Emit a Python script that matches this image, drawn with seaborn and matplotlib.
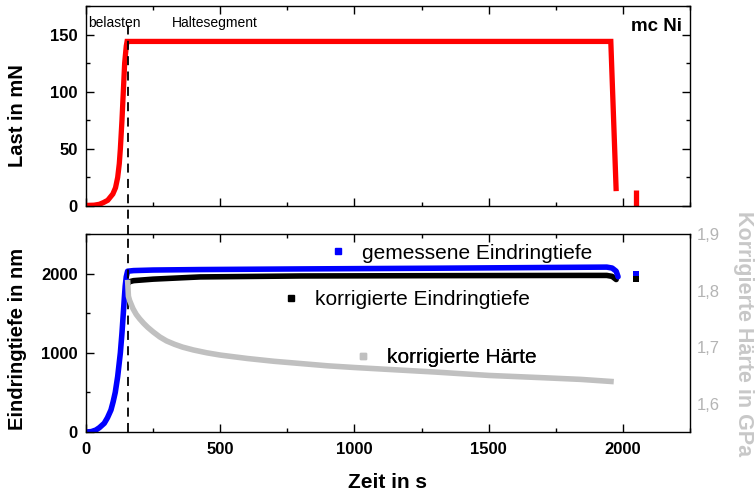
import matplotlib
matplotlib.use("Agg")
import matplotlib.pyplot as plt
import numpy as np
import pandas as pd
import seaborn as sns
from matplotlib.lines import Line2D
from matplotlib.ticker import MultipleLocator, FixedLocator, FuncFormatter

# ---- load (mN) over time (s) ----
load_t = [0, 30, 50, 65, 81, 100, 110, 118, 124, 128, 134, 139, 144, 150, 153, 1955, 1975]
load_p = [0.5, 0.7, 1.5, 3, 5, 10.5, 16, 25, 37, 50, 75, 100, 125, 140, 144, 144, 13]
final_unload_t = [2049, 2049]
final_unload_p = [14, 0]

# ---- measured indentation depth (nm) ----
depth_t = [0, 20, 37, 50, 68, 80, 93, 101, 109, 118, 128, 134, 139, 143, 146, 150, 155,
           177, 250, 425, 800, 1300, 1845, 1940, 1960, 1975, 1982]
depth_h = [0, 5, 25, 55, 110, 180, 278, 380, 500, 700, 1000, 1250, 1500, 1700, 1840, 1960, 2030,
           2038, 2045, 2051, 2059, 2068, 2080, 2082, 2070, 2030, 1960]
depth_end_t = [2049]
depth_end_h = [1995]

# ---- corrected indentation depth (nm) ----
corr_t = [149, 153, 158, 165, 177, 250, 425, 800, 1300, 1845, 1940, 1960, 1975]
corr_h = [1840, 1855, 1890, 1900, 1911, 1930, 1958, 1970, 1974, 1977, 1977, 1965, 1925]
corr_end_t = [2049]
corr_end_h = [1933]

# ---- corrected hardness (GPa) ----
hard_t = [155, 158, 162, 168, 175, 187, 200, 215, 230, 250, 275, 300, 330, 360, 400, 450,
          500, 600, 700, 800, 900, 1000, 1150, 1300, 1500, 1700, 1843, 1966]
hard_H = [1.819, 1.790, 1.783, 1.776, 1.768, 1.758, 1.750, 1.742, 1.735, 1.727, 1.718, 1.711,
          1.705, 1.700, 1.695, 1.690, 1.686, 1.680, 1.675, 1.671, 1.667, 1.664, 1.660, 1.656,
          1.650, 1.646, 1.643, 1.639]

t_load_end = 155
right_ticks = [1.6, 1.7, 1.8, 1.9]

sns.set_theme(style="ticks")
plt.rcParams["font.family"] = ["Liberation Sans", "DejaVu Sans"]
plt.rcParams["axes.linewidth"] = 1.0
for key_ in ("text.color", "axes.labelcolor", "xtick.color", "ytick.color", "axes.edgecolor"):
    plt.rcParams[key_] = "black"

RED = "#ff0000"
BLUE = "#0000ff"
GRAY = "#c0c0c0"
LABEL_GRAY = "#c8c8c8"
TICK_GRAY = "#b4b4b4"

fig = plt.figure(figsize=(7.56, 4.95), dpi=100)
W, H = 756, 495
ax_top = fig.add_axes([86 / W, (H - 206) / H, 604 / W, 200 / H])
ax_bot = fig.add_axes([86 / W, (H - 432) / H, 604 / W, 198 / H])

# ---- top panel: load ----
sns.lineplot(x=load_t, y=load_p, ax=ax_top, color=RED, lw=3.8, sort=False, estimator=None,
             solid_capstyle="butt", solid_joinstyle="miter")
sns.lineplot(x=final_unload_t, y=final_unload_p, ax=ax_top, color=RED, lw=3.8,
             sort=False, estimator=None, solid_capstyle="butt")
ax_top.set_xlim(0, 2250)
ax_top.set_ylim(0, 175)
ax_top.set_ylabel("Last in mN", fontsize=14.5, fontweight="bold", va="center")
ax_top.yaxis.set_label_coords(-0.113, 0.45)
ax_top.set_xlabel("")
ax_top.yaxis.set_major_locator(FixedLocator([0, 50, 100, 150]))
ax_top.yaxis.set_minor_locator(MultipleLocator(25))
ax_top.xaxis.set_major_locator(MultipleLocator(500))
ax_top.xaxis.set_minor_locator(MultipleLocator(250))
ax_top.tick_params(axis="x", labelbottom=False)

ax_top.text(0.004, 0.917, "belasten", transform=ax_top.transAxes, fontsize=10,
            ha="left", va="center")
ax_top.text(0.142, 0.917, "Haltesegment", transform=ax_top.transAxes, fontsize=10,
            ha="left", va="center")
ax_top.text(0.987, 0.90, "mc Ni", transform=ax_top.transAxes, fontsize=13.5,
            fontweight="bold", ha="right", va="center")

# ---- bottom panel: depths ----
sns.lineplot(x=corr_t, y=corr_h, ax=ax_bot, color="black", lw=4, sort=False,
             estimator=None, solid_capstyle="round")
sns.lineplot(x=depth_t, y=depth_h, ax=ax_bot, color=BLUE, lw=4, sort=False,
             estimator=None, solid_capstyle="round")
sns.scatterplot(x=depth_end_t, y=depth_end_h, ax=ax_bot, color=BLUE, marker="s",
                s=22, linewidth=0)
sns.scatterplot(x=corr_end_t, y=corr_end_h, ax=ax_bot, color="black", marker="s",
                s=22, linewidth=0)
ax_bot.set_xlim(0, 2250)
ax_bot.set_ylim(0, 2500)
ax_bot.xaxis.set_major_locator(MultipleLocator(500))
ax_bot.xaxis.set_minor_locator(MultipleLocator(250))
ax_bot.yaxis.set_major_locator(FixedLocator([0, 1000, 2000]))
ax_bot.yaxis.set_minor_locator(MultipleLocator(500))
ax_bot.set_xlabel("Zeit in s", fontsize=15, fontweight="bold")
ax_bot.set_ylabel("Eindringtiefe in nm", fontsize=14.5, fontweight="bold", va="center")
ax_bot.xaxis.set_label_coords(0.5, -0.253)
ax_bot.xaxis.label.set_va("center")
ax_bot.yaxis.set_label_coords(-0.113, 0.472)

for ax in (ax_top, ax_bot):
    ax.tick_params(which="both", direction="in", top=True, right=True, width=1.0,
                   colors="black")
    ax.tick_params(which="major", length=5.5)
    ax.tick_params(which="minor", length=3.2)
    ax.tick_params(axis="y", which="major", labelsize=12, pad=6)
    ax.tick_params(axis="x", which="major", labelsize=12, pad=7)
    for lab in ax.get_xticklabels() + ax.get_yticklabels():
        lab.set_fontweight("bold")
    for sp in ax.spines.values():
        sp.set_visible(True)
        sp.set_linewidth(1.0)
        sp.set_color("black")

# ---- hardness on secondary axis ----
ax_h = ax_bot.twinx()
sns.lineplot(x=hard_t, y=hard_H, ax=ax_h, color=GRAY, lw=4, sort=False, estimator=None,
             solid_capstyle="butt")
ax_h.set_ylim(1.55, 1.9)
ax_h.yaxis.set_major_locator(FixedLocator(right_ticks))
ax_h.yaxis.set_major_formatter(FuncFormatter(lambda v, p: f"{v:.1f}".replace(".", ",")))
ax_h.tick_params(axis="y", length=0, pad=5, labelsize=12, labelcolor=TICK_GRAY)
ax_h.set_ylabel("Korrigierte Härte in GPa", fontsize=15.5, fontweight="bold",
                color=LABEL_GRAY, rotation=270, va="center", ha="center")
ax_h.yaxis.set_label_coords(1.089, 0.495)
for sp in ax_h.spines.values():
    sp.set_visible(False)

# ---- end of loading marker across both panels ----
ls = (0, (5, 3.5))
ax_top.axvline(t_load_end, ymin=-0.14, ymax=0.93, color="black", lw=1.3,
               linestyle=ls, clip_on=False)
ax_bot.axvline(t_load_end, ymin=0, ymax=1, color="black", lw=1.3, linestyle=ls)

# ---- series annotations ----
def key(ax, color, label, x_marker, y):
    h = Line2D([], [], color=color, marker="s", markersize=3.8, linestyle="none")
    fs = 15
    hl = 0.6
    offset = hl * fs / 2 * 100 / 72 / 604
    leg = ax.legend([h], [label], loc="center left",
                    bbox_to_anchor=(x_marker - offset, y), bbox_transform=ax_bot.transAxes,
                    frameon=False, fontsize=fs, handlelength=hl, handletextpad=0.85,
                    borderpad=0, borderaxespad=0, markerscale=1, labelcolor="black")
    ax.add_artist(leg)
    return leg

key(ax_h, BLUE, "gemessene Eindringtiefe", 0.417, 0.904)
key(ax_h, "black", "korrigierte Eindringtiefe", 0.339, 0.667)
key(ax_h, GRAY, "korrigierte Härte", 0.459, 0.374)

fig.savefig("out.png", dpi=100)
